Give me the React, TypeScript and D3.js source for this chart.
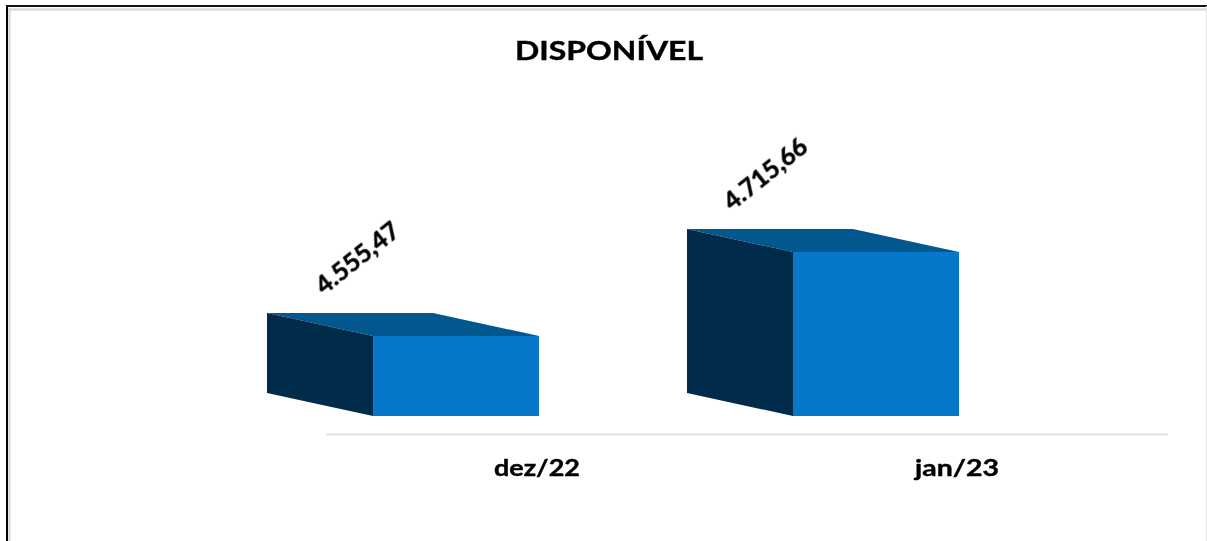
import React from "react";
import * as d3 from "d3";

const categories = ["dez/22", "jan/23"];
const values = [4555.47, 4715.66];
const valueLabels = ["4.555,47", "4.715,66"];
const title = "DISPONÍVEL";

const W = 1207;
const H = 541;
const font = "Lato, 'Open Sans', sans-serif";

const x = d3.scalePoint<string>().domain(categories).range([456, 876]);
const y = d3.scaleLinear().domain([4402.9, 4715.66]).range([416, 252]);
const base = y.range()[0];
const halfW = 83;
const depthX = 106;
const depthY = 23;
const labelOffsetX = [92, 80];
const categoryWidths = [86, 84];

const poly = d3.line<[number, number]>().curve(d3.curveLinearClosed);

export default function App() {
  return (
    <svg
      width={W}
      height={H}
      viewBox={`0 0 ${W} ${H}`}
      style={{ position: "absolute", left: 0, top: 0, background: "#fff" }}
    >
      <defs>
        <filter id="soft" x="-5%" y="-5%" width="110%" height="110%" colorInterpolationFilters="sRGB">
          <feGaussianBlur stdDeviation="0.6" />
        </filter>
        <filter id="softText" x="-5%" y="-5%" width="110%" height="110%" colorInterpolationFilters="sRGB">
          <feGaussianBlur stdDeviation="0.3" />
        </filter>
      </defs>

      <line x1={9.5} y1={8} x2={9.5} y2={H} stroke="#dcdcdc" strokeWidth={2.5} />
      <line x1={8} y1={9.5} x2={W} y2={9.5} stroke="#dcdcdc" strokeWidth={2.5} />
      <line x1={7} y1={5.5} x2={7} y2={H} stroke="#000" strokeWidth={2} />
      <line x1={6} y1={6} x2={W} y2={6} stroke="#111" strokeWidth={2} />
      <line x1={1206.5} y1={6} x2={1206.5} y2={H} stroke="#e2e2e2" strokeWidth={1} />

      <text
        x={515}
        y={60}
        textLength={188}
        lengthAdjust="spacingAndGlyphs"
        fontFamily={font}
        fontWeight={700}
        fontSize={26}
        fill="#000"
        stroke="#000"
        strokeWidth={0.4}
        filter="url(#softText)"
      >
        {title}
      </text>

      <line x1={326} y1={434.5} x2={1168} y2={434.5} stroke="#e3e3e3" strokeWidth={2} />

      {categories.map((c, i) => {
        const cx = x(c)!;
        const top = y(values[i]);
        const l = cx - halfW;
        const r = cx + halfW;
        const side: [number, number][] = [
          [l - depthX, top - depthY],
          [l, top],
          [l, base],
          [l - depthX, base - depthY],
        ];
        const topFace: [number, number][] = [
          [l - depthX, top - depthY],
          [r - depthX, top - depthY],
          [r, top],
          [l, top],
        ];
        const front: [number, number][] = [
          [l, top],
          [r, top],
          [r, base],
          [l, base],
        ];
        return (
          <g key={c}>
            <g filter="url(#soft)">
              <path d={poly(topFace)!} fill="#02578f" />
              <path d={poly(side)!} fill="#012b4a" />
              <path d={poly(front)!} fill="#0777c9" />
            </g>
            <text
              transform={`translate(${l - depthX + labelOffsetX[i]},${top - depthY - 53}) rotate(-38.5)`}
              textAnchor="middle"
              dominantBaseline="middle"
              textLength={99}
              lengthAdjust="spacingAndGlyphs"
              fontFamily={font}
              fontWeight={700}
              fontSize={24}
              fill="#000"
              stroke="#000"
              strokeWidth={0.5}
              filter="url(#softText)"
            >
              {valueLabels[i]}
            </text>
            <text
              x={cx + 81}
              y={476}
              textAnchor="middle"
              textLength={categoryWidths[i]}
              lengthAdjust="spacingAndGlyphs"
              fontFamily={font}
              fontWeight={700}
              fontSize={22}
              fill="#000"
              stroke="#000"
              strokeWidth={0.4}
              filter="url(#softText)"
            >
              {c}
            </text>
          </g>
        );
      })}
    </svg>
  );
}
